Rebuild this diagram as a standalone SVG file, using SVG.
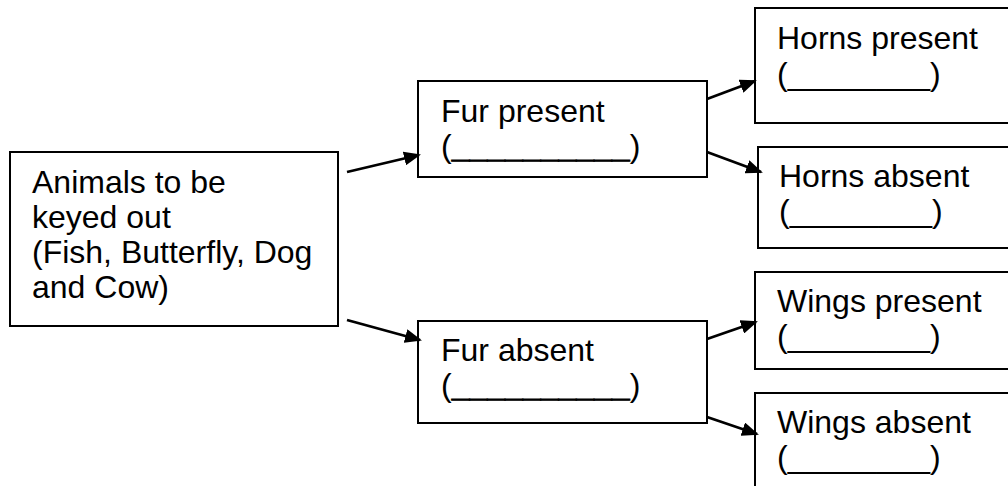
<svg xmlns="http://www.w3.org/2000/svg" width="1008" height="486" viewBox="0 0 1008 486">
<style>
.box{fill:#fff;stroke:#000;stroke-width:2}
.t{font-family:"Liberation Sans",Arial,sans-serif;font-size:32px;fill:#000}
.u{font-weight:bold;stroke:#000;stroke-width:0.9}
.c line{stroke:#000;stroke-width:2.7;marker-end:url(#ah)}
</style>
<defs>
<marker id="ah" markerUnits="userSpaceOnUse" markerWidth="17" markerHeight="14" refX="15" refY="7" orient="auto" viewBox="0 0 17 14">
<path d="M0,0 L17,7 L0,14 z" fill="#000"/>
</marker>
</defs>
<rect width="1008" height="486" fill="#fff"/>
<g id="root">
<rect class="box" x="10" y="152" width="328" height="174"/>
<text class="t" x="32" y="193">Animals to be</text>
<text class="t" x="32" y="228">keyed out</text>
<text class="t" x="32" y="263">(Fish, Butterfly, Dog</text>
<text class="t" x="32" y="298">and Cow)</text>
</g>
<g id="fur-present">
<rect class="box" x="418" y="81" width="289" height="96"/>
<text class="t" x="441" y="122">Fur present</text>
<text class="t" x="441" y="157">(<tspan class="u">__________</tspan>)</text>
</g>
<g id="fur-absent">
<rect class="box" x="418" y="321" width="289" height="102"/>
<text class="t" x="441" y="361">Fur absent</text>
<text class="t" x="441" y="396">(<tspan class="u">__________</tspan>)</text>
</g>
<g id="horns-present">
<rect class="box" x="755" y="8" width="270" height="115"/>
<text class="t" x="777" y="49">Horns present</text>
<text class="t" x="777" y="85">(________)</text>
</g>
<g id="horns-absent">
<rect class="box" x="758" y="147" width="270" height="101"/>
<text class="t" x="779" y="187">Horns absent</text>
<text class="t" x="779" y="222">(________)</text>
</g>
<g id="wings-present">
<rect class="box" x="755" y="272" width="270" height="97"/>
<text class="t" x="777" y="312">Wings present</text>
<text class="t" x="777" y="347">(________)</text>
</g>
<g id="wings-absent">
<rect class="box" x="755" y="393" width="270" height="110"/>
<text class="t" x="777" y="433">Wings absent</text>
<text class="t" x="777" y="468">(________)</text>
</g>
<g id="connectors" class="c">
<line x1="347" y1="172" x2="419" y2="155"/>
<line x1="347" y1="320" x2="420" y2="340"/>
<line x1="707" y1="99" x2="755" y2="81"/>
<line x1="707" y1="152" x2="761" y2="172"/>
<line x1="707" y1="339" x2="756" y2="322"/>
<line x1="707" y1="417" x2="757" y2="434"/>
</g>
</svg>
